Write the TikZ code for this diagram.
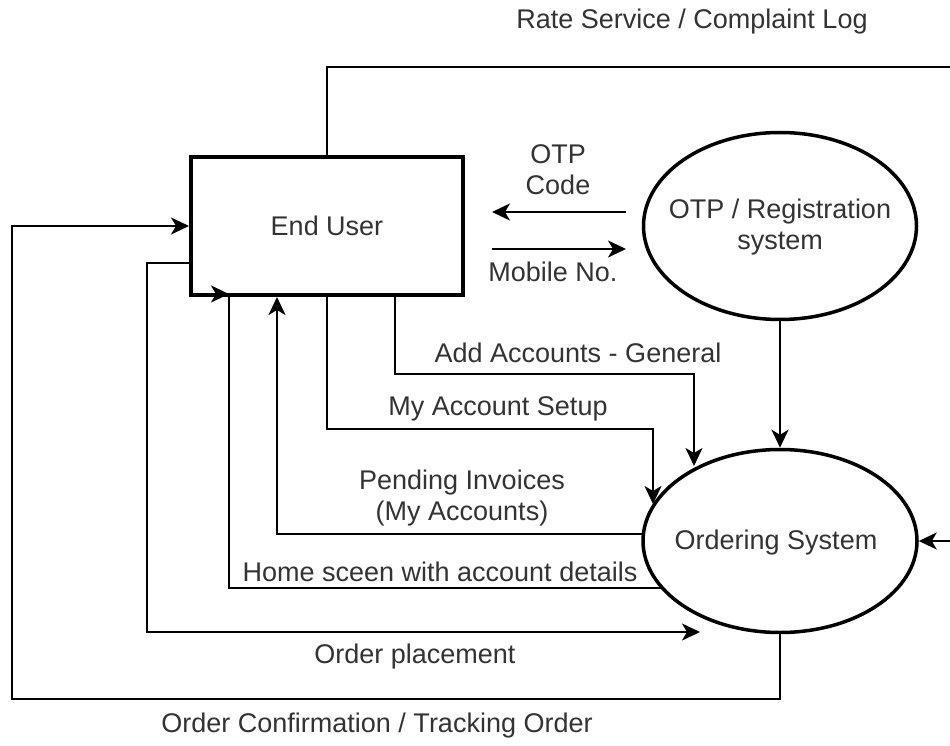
\documentclass[tikz,border=0pt]{standalone}
\usepackage{fontspec}
\setmainfont{Liberation Sans}
\usetikzlibrary{arrows.meta,shapes.geometric}
\definecolor{txt}{HTML}{333333}
\begin{document}
\begin{tikzpicture}[x=1pt,y=-1pt,
  lbl/.style={font=\fontsize{27}{31}\selectfont, text=txt, align=center, inner sep=0pt},
  flow/.style={draw=black, line width=2pt, -{Stealth[length=18pt,width=17pt,inset=5pt]}},
  plainline/.style={draw=black, line width=2pt},
  proc/.style={draw=black, line width=3.5pt, ellipse, inner sep=0pt},
  entity/.style={draw=black, line width=4pt, rectangle, inner sep=0pt}
]
\useasboundingbox (0,0) rectangle (950,746);
\clip (0,0) rectangle (950,746);

% nodes
\node[entity, minimum width=272pt, minimum height=138pt, lbl] (eu) at (327,226) {End User};
\node[proc, minimum width=273pt, minimum height=187pt] (otp) at (780,226) {};
\node[lbl] (otpt) at (780,227) {OTP / Registration\\system};
\node[proc, minimum width=274pt, minimum height=183pt] (os) at (780,541) {};
\node[lbl] (ost) at (776,543) {Ordering System};

% coordinates
\coordinate (rsR) at (962,67);
\coordinate (oc1) at (626,212);
\coordinate (oc2) at (492,212);
\coordinate (mn1) at (492,249);
\coordinate (mn2) at (626,249);
\coordinate (aaX) at (395,0);
\coordinate (aaM) at (395,374);
\coordinate (aa) at (694,466);
\coordinate (maM) at (327,429);
\coordinate (ma) at (653,504);
\coordinate (pi) at (643,534);
\coordinate (piX) at (277,0);
\coordinate (hs) at (662,588);
\coordinate (hsT) at (229,294);
\coordinate (hsA) at (210,294);
\coordinate (opY) at (0,263);
\coordinate (opC) at (147,632);
\coordinate (op) at (700,632);
\coordinate (ocL) at (12,699);

% connectors
\draw[flow] (eu.north) |- (rsR) |- (os.east);
\draw[flow] (oc1) -- (oc2);
\draw[flow] (mn1) -- (mn2);
\draw[flow] (eu.south -| aaX) -- (aaM) -| (aa);
\draw[flow] (eu.south) -- (maM) -| (ma);
\draw[flow] (pi) -| (eu.south -| piX);
\draw[plainline] (hs) -| (hsT);
\draw[flow] (hsA) -- (hsT);
\draw[flow] (eu.west |- opY) -| (opC) -- (op);
\draw[flow] (os.south) |- (ocL) |- (eu.west);
\draw[flow] (otp.south) -- (os.north);

% labels
\node[lbl] (l1) at (692,22) {Rate Service / Complaint Log};
\node[lbl] (l2) at (558,170) {OTP\\Code};
\node[lbl] (l3) at (553,272) {Mobile No.};
\node[lbl] (l4) at (578,353) {Add Accounts - General};
\node[lbl] (l5) at (498,409) {My Account Setup};
\node[lbl] (l6) at (462,498) {Pending Invoices\\(My Accounts)};
\node[lbl] (l7) at (440,572) {Home sceen with account details};
\node[lbl] (l8) at (415,657) {Order placement};
\node[lbl] (l9) at (377,726) {Order Confirmation / Tracking Order};
\end{tikzpicture}
\end{document}
